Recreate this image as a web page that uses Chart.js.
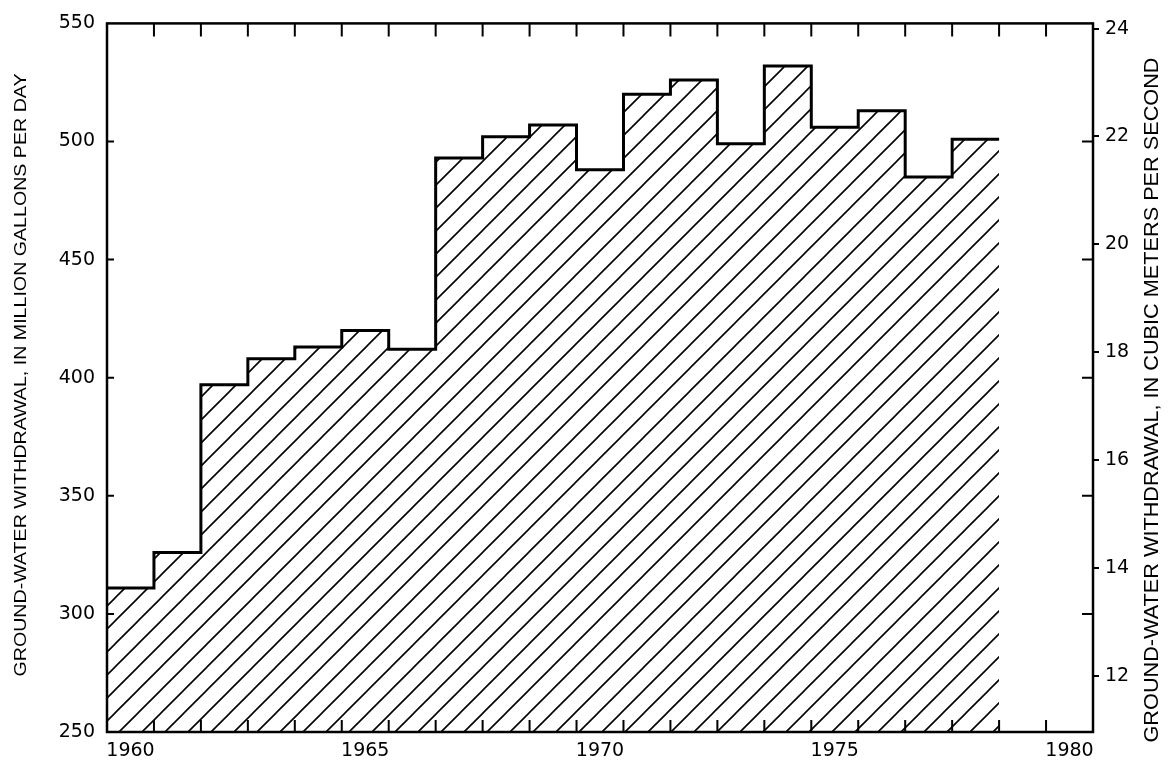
<!DOCTYPE html>
<html>
<head>
<meta charset="utf-8">
<script src="https://cdn.jsdelivr.net/npm/chart.js@4.4.1/dist/chart.umd.min.js"></script>
<style>
  html, body { margin: 0; padding: 0; background: #fff; }
  #chartBox { width: 1172px; height: 761px; }
</style>
</head>
<body>
<div id="chartBox"><canvas id="withdrawalChart"></canvas></div>
<script>
// ground-water withdrawal per year, million gallons per day
const years = [1960, 1961, 1962, 1963, 1964, 1965, 1966, 1967, 1968, 1969,
               1970, 1971, 1972, 1973, 1974, 1975, 1976, 1977, 1978];
const withdrawal = [311, 326, 397, 408, 413, 420, 412, 493, 502, 507,
                    488, 520, 526, 499, 532, 506, 513, 485, 501];

const yearLabels = [1960, 1965, 1970, 1975, 1980];
const mgdTicks = [250, 300, 350, 400, 450, 500, 550];
const cmsTicks = [12, 14, 16, 18, 20, 22, 24];

const MGD_TO_CMS = 0.0438126;
const TICK_FONT = { family: "DejaVu Sans", size: 19 };

const CHART = document.getElementById("withdrawalChart");

function hatchPattern() {
  const size = 23;
  const c = document.createElement("canvas");
  c.width = size;
  c.height = size;
  const ctx = c.getContext("2d");
  ctx.strokeStyle = "#000";
  ctx.lineWidth = 1.6;
  ctx.beginPath();
  ctx.moveTo(-2, size + 2);
  ctx.lineTo(size + 2, -2);
  ctx.moveTo(-2, 2);
  ctx.lineTo(2, -2);
  ctx.moveTo(size - 2, size + 2);
  ctx.lineTo(size + 2, size - 2);
  ctx.stroke();
  return ctx.createPattern(c, "repeat");
}

// step outline: each year holds its value until the next year starts
let points = years.map((y, i) => ({ x: y, y: withdrawal[i] }));
points.push({ x: years[years.length - 1] + 1, y: withdrawal[withdrawal.length - 1] });

function verticalText(ctx, text, cx, cy, length, font) {
  ctx.save();
  ctx.translate(cx, cy);
  ctx.rotate(-Math.PI / 2);
  ctx.font = font;
  let w = ctx.measureText(text).width;
  ctx.scale(length / w, 1);
  ctx.textAlign = "center";
  ctx.textBaseline = "middle";
  ctx.fillStyle = "#000";
  ctx.fillText(text, 0, 0);
  ctx.restore();
}

const framePlugin = {
  id: "frame",
  afterDatasetsDraw(chart) {
    const ctx = chart.ctx;
    const a = chart.chartArea;
    const xs = chart.scales.x;
    const ys = chart.scales.y;
    ctx.save();
    ctx.strokeStyle = "#000";
    ctx.lineWidth = 2.5;
    ctx.strokeRect(a.left, a.top, a.right - a.left, a.bottom - a.top);

    ctx.lineWidth = 2;
    ctx.beginPath();
    // year ticks, inward on top and bottom
    for (let yr = Math.ceil(xs.min) + 1; yr < xs.max; yr++) {
      let px = xs.getPixelForValue(yr);
      ctx.moveTo(px, a.top);
      ctx.lineTo(px, a.top + 13);
      ctx.moveTo(px, a.bottom);
      ctx.lineTo(px, a.bottom - 12);
    }
    // left scale ticks, inward on both sides
    mgdTicks.slice(1, -1).forEach(v => {
      let py = ys.getPixelForValue(v);
      ctx.moveTo(a.left, py);
      ctx.lineTo(a.left + 7, py);
      ctx.moveTo(a.right, py);
      ctx.lineTo(a.right - 11, py);
    });
    ctx.stroke();
    ctx.restore();
  },
  afterDraw(chart) {
    const ctx = chart.ctx;
    verticalText(ctx, "GROUND-WATER WITHDRAWAL, IN MILLION GALLONS PER DAY",
      21, 375, 603, "17px 'Liberation Sans'");
    verticalText(ctx, "GROUND-WATER WITHDRAWAL, IN CUBIC METERS PER SECOND",
      1152, 400, 685, "20px 'Liberation Sans'");
  }
};

let withdrawalChart = new Chart(CHART, {
  type: "line",
  data: {
    datasets: [
      {
        label: "Ground-water withdrawal",
        data: points,
        stepped: true,
        fill: "start",
        backgroundColor: hatchPattern(),
        borderColor: "#000",
        borderWidth: 3,
        pointRadius: 0,
        borderJoinStyle: "miter"
      }
    ]
  },
  options: {
    animation: false,
    responsive: true,
    maintainAspectRatio: false,
    devicePixelRatio: 1,
    layout: { padding: { top: 16, left: 0, right: 0, bottom: 0 } },
    plugins: {
      legend: { display: false },
      tooltip: { enabled: false }
    },
    scales: {
      x: {
        type: "linear",
        position: "bottom",
        min: 1960,
        max: 1981,
        grid: { display: false, drawTicks: false },
        border: { display: false },
        afterBuildTicks: (scale) => {
          scale.ticks = yearLabels.map(y => ({ value: y + 0.5 }));
        },
        afterFit: (scale) => { scale.height = 29; },
        ticks: {
          color: "#000",
          font: TICK_FONT,
          padding: 8,
          autoSkip: false,
          maxRotation: 0,
          callback: (v) => String(Math.floor(v))
        }
      },
      y: {
        type: "linear",
        position: "left",
        min: mgdTicks[0],
        max: mgdTicks[mgdTicks.length - 1],
        grid: { display: false, drawTicks: false },
        border: { display: false },
        afterBuildTicks: (scale) => {
          scale.ticks = mgdTicks.map(v => ({ value: v }));
        },
        afterFit: (scale) => { scale.width = 107; },
        ticks: { color: "#000", font: TICK_FONT, padding: 12 }
      },
      y2: {
        type: "linear",
        position: "right",
        min: mgdTicks[0] * MGD_TO_CMS,
        max: mgdTicks[mgdTicks.length - 1] * MGD_TO_CMS,
        grid: {
          display: true,
          drawOnChartArea: false,
          drawTicks: true,
          tickLength: 6,
          color: "#000",
          lineWidth: 2
        },
        border: { display: false },
        afterBuildTicks: (scale) => {
          scale.ticks = cmsTicks.map(v => ({ value: v }));
        },
        afterFit: (scale) => { scale.width = 79; },
        ticks: {
          color: "#000",
          font: TICK_FONT,
          padding: 6,
          callback: (v) => String(v)
        }
      }
    }
  },
  plugins: [framePlugin]
});
</script>
</body>
</html>
